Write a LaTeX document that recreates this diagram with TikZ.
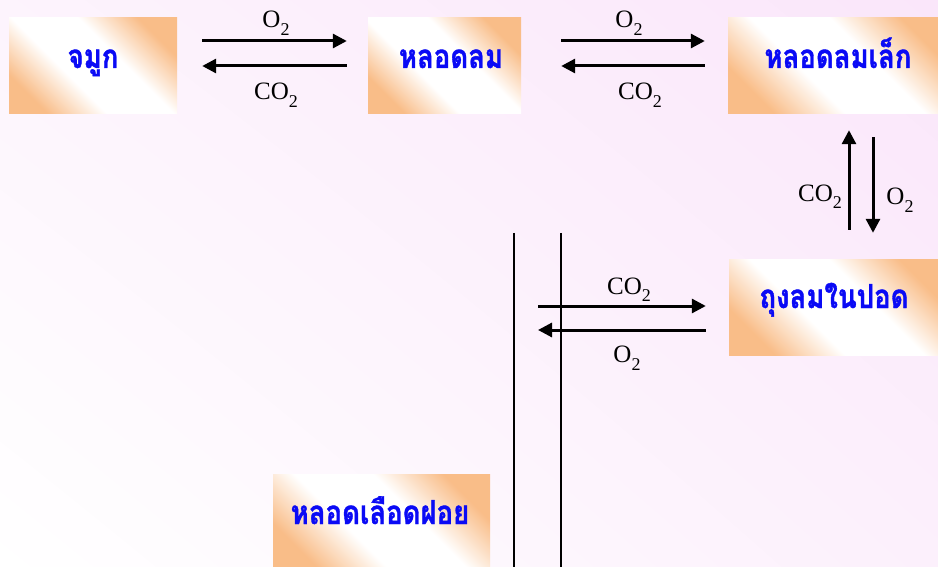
\documentclass[tikz,border=0pt]{standalone}
\usepackage{fontspec}
\setmainfont{Liberation Serif}
\newfontfamily\thaifont[Script=Thai, BoldFeatures={FakeBold=1.2}]{Loma}
\usetikzlibrary{arrows.meta,calc,shadings}
\definecolor{boxor}{HTML}{F9BD88}
\definecolor{bgpink}{HTML}{FAE6FA}
\definecolor{thaiblue}{HTML}{0A0AF5}
\pgfdeclarehorizontalshading{boxshade}{100bp}{color(0bp)=(boxor); color(25bp)=(boxor); color(41bp)=(white); color(59bp)=(white); color(75bp)=(boxor); color(100bp)=(boxor)}
\newcommand{\chemf}[2]{#1\raisebox{-8pt}{\fontsize{18}{18}\selectfont #2}}
\newcommand{\thaitxt}[1]{\scalebox{1}[1.2]{#1}}
\begin{document}
\begin{tikzpicture}[x=1pt,y=-1pt,
  box/.style={shading=boxshade, shading angle=45, minimum height=96pt, inner sep=0pt, draw=none},
  thai/.style={font=\thaifont\bfseries\fontsize{27.5}{27.5}\selectfont, text=thaiblue, anchor=base, inner sep=0pt},
  lbl/.style={font=\fontsize{25}{25}\selectfont, anchor=base, inner sep=0pt},
  arr/.style={line width=3pt, -{Triangle[length=14pt,width=14pt]}},
  wall/.style={line width=1.8pt}]
\shade[upper left=bgpink!45, upper right=bgpink, lower left=white, lower right=bgpink!60] (0,0) rectangle (938,567);
\useasboundingbox (0,0) rectangle (938,567);
% boxes
\node[box, minimum width=168pt] (nose) at (93,66) {};
\node[box, minimum width=153pt] (tube) at (444.5,66) {};
\node[box, minimum width=220pt] (bronch) at (838,66) {};
\node[box, minimum width=216pt] (alv) at (837,307) {};
\node[box, minimum width=217pt] (cap) at (381.5,522) {};
% texts
\node[thai] (noset) at (93,68) {\thaitxt{จมูก}};
\node[thai] (tubet) at (451,68) {\thaitxt{หลอดลม}};
\node[thai] (broncht) at (838,68) {\thaitxt{หลอดลมเล็ก}};
\node[thai] (alvt) at (834,308) {\thaitxt{ถุงลมในปอด}};
\node[thai] (capt) at (380,524) {\thaitxt{หลอดเลือดฝอย}};
% row 1
\draw[arr] ($(nose.east)+(25,-25)$) -- ($(tube.west)+(-21,-25)$);
\draw[arr] ($(tube.west)+(-21,0)$) -- ($(nose.east)+(25,0)$);
\node[lbl] (o2a) at (276,28) {\chemf{O}{2}};
\node[lbl] (co2a) at (276,100) {\chemf{CO}{2}};
% row 2
\draw[arr] ($(tube.east)+(40,-25)$) -- ($(bronch.west)+(-23,-25)$);
\draw[arr] ($(bronch.west)+(-23,0)$) -- ($(tube.east)+(40,0)$);
\node[lbl] (o2b) at (629,28) {\chemf{O}{2}};
\node[lbl] (co2b) at (640,100) {\chemf{CO}{2}};
% vertical
\draw[arr] ($(alv.north)+(12,-29)$) -- ($(bronch.south)+(11,16)$);
\draw[arr] ($(bronch.south)+(35,23)$) -- ($(alv.north)+(36,-26)$);
\node[lbl] (co2c) at (820,201) {\chemf{CO}{2}};
\node[lbl] (o2c) at (900,205) {\chemf{O}{2}};
% walls
\coordinate (w1t) at (514,233);
\coordinate (w1b) at (514,567);
\coordinate (w2t) at (561,233);
\coordinate (w2b) at (561,567);
\draw[wall] (w1t) -- (w1b);
\draw[wall] (w2t) -- (w2b);
% alveoli exchange
\coordinate (ga) at (538,306);
\coordinate (gb) at (538,330);
\draw[arr] (ga) -- ($(alv.west)+(-23,-1)$);
\draw[arr] ($(alv.west)+(-23,23)$) -- (gb);
\node[lbl] (co2d) at (629,294) {\chemf{CO}{2}};
\node[lbl] (o2d) at (627,362) {\chemf{O}{2}};
\end{tikzpicture}
\end{document}
